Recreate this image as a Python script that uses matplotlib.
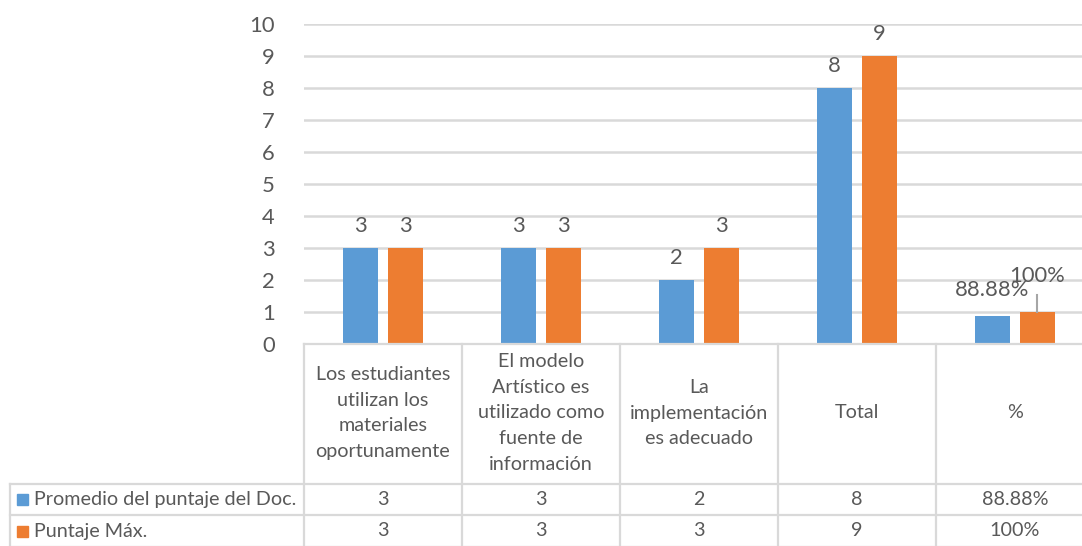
import matplotlib
matplotlib.use("Agg")
import matplotlib.pyplot as plt
from matplotlib.transforms import blended_transform_factory, offset_copy
from matplotlib.patches import Rectangle
from matplotlib.lines import Line2D

categories = ["Los estudiantes\nutilizan los\nmateriales\noportunamente",
              "El modelo\nArtístico es\nutilizado como\nfuente de\ninformación",
              "La\nimplementación\nes adecuado",
              "Total",
              "%"]
series_names = ["Promedio del puntaje del Doc.", "Puntaje Máx."]
promedio = [3, 3, 2, 8, 0.8888]
maximo = [3, 3, 3, 9, 1.0]
promedio_labels = ["3", "3", "2", "8", "88.88%"]
maximo_labels = ["3", "3", "3", "9", "100%"]
yticks = list(range(0, 11))

BLUE = "#5B9BD5"
ORANGE = "#ED7D31"
TXT = "#595959"
GRID = "#D9D9D9"

plt.rcParams['font.family'] = ['Lato', 'DejaVu Sans']

W, H = 1082, 546
fig = plt.figure(figsize=(W / 100, H / 100), dpi=100)

def fx(px):
    return px / W

def fy(py):
    return 1 - py / H

left_px, right_px, top_px, bot_px = 304, 1094, 24, 344
ax = fig.add_axes([fx(left_px), fy(bot_px), fx(right_px) - fx(left_px), fy(top_px) - fy(bot_px)])

n = len(categories)
xs = list(range(n))
bw = 0.222
off = 0.1424
ax.bar([x - off for x in xs], promedio, width=bw, color=BLUE, zorder=3)
ax.bar([x + off for x in xs], maximo, width=bw, color=ORANGE, zorder=3)

ax.set_xlim(-0.5, n - 0.5)
ax.set_ylim(0, 10)
ax.set_yticks(yticks)
ax.set_yticklabels([str(t) for t in yticks], fontsize=15.8, color=TXT)
ax.tick_params(axis='y', length=0, pad=21)
ax.set_xticks([])
for s in ax.spines.values():
    s.set_visible(False)
ax.grid(axis='y', color=GRID, linewidth=1.8, zorder=0)
ax.set_axisbelow(True)

# data labels
lab_tr = offset_copy(ax.transData, fig=fig, x=0, y=22, units='dots')
for i in range(n - 1):
    ax.text(xs[i] - off, promedio[i], promedio_labels[i], transform=lab_tr,
            ha='center', va='center', fontsize=15.8, color=TXT)
    ax.text(xs[i] + off, maximo[i], maximo_labels[i], transform=lab_tr,
            ha='center', va='center', fontsize=15.8, color=TXT)
# percent column labels
i = n - 1
tr25 = offset_copy(ax.transData, fig=fig, x=0, y=26, units='dots')
ax.text(xs[i] - off, promedio[i], promedio_labels[i], transform=tr25,
        ha='center', va='center', fontsize=15.8, color=TXT, zorder=5)
tr36 = offset_copy(ax.transData, fig=fig, x=0, y=36, units='dots')
ax.text(xs[i] + off, maximo[i], maximo_labels[i], transform=tr36,
        ha='center', va='center', fontsize=15.8, color=TXT, zorder=5)
# leader line from bar top up
p0 = ax.transData.transform((xs[i] + off, maximo[i]))
fig.add_artist(Line2D([fx(p0[0]), fx(p0[0])], [p0[1] / H, (p0[1] + 17) / H],
                      color="#A6A6A6", linewidth=1.5, transform=fig.transFigure))

# data table
bt = blended_transform_factory(ax.transData, fig.transFigure)
tbl_left = fx(10)
y_hdr_top = fy(344)
y_hdr_bot = fy(484)
y_r1_bot = fy(515)
y_r2_bot = fy(547)

lw = 1.6
fig.add_artist(Line2D([ax.transData.transform((-0.5, 0))[0] / W, 1.02], [y_hdr_top, y_hdr_top],
                      color=GRID, lw=lw, transform=fig.transFigure, zorder=4))
for yy in (y_hdr_bot, y_r1_bot, y_r2_bot):
    fig.add_artist(Line2D([tbl_left, 1.02], [yy, yy], color=GRID, lw=lw,
                          transform=fig.transFigure))
for b in range(n + 1):
    xb = b - 0.5
    ax.add_line(Line2D([xb, xb], [y_hdr_top, y_r2_bot], color=GRID, lw=lw,
                       transform=bt, clip_on=False))
fig.add_artist(Line2D([tbl_left, tbl_left], [y_hdr_bot, y_r2_bot], color=GRID, lw=lw,
                      transform=fig.transFigure))

FS = 14.2
for i, c in enumerate(categories):
    ax.text(xs[i], fy(413), c, transform=bt, ha='center', va='center',
            fontsize=FS, color=TXT, linespacing=1.62, clip_on=False)

row_y = [fy(499.5), fy(531)]
vals = [promedio_labels, maximo_labels]
cols = [BLUE, ORANGE]
for r in range(2):
    for i in range(n):
        ax.text(xs[i], row_y[r], vals[r][i], transform=bt, ha='center', va='center',
                fontsize=FS, color=TXT, clip_on=False)
    sq = 11
    fig.add_artist(Rectangle((fx(17), row_y[r] - (sq / 2) / H), sq / W, sq / H,
                             color=cols[r], transform=fig.transFigure))
    fig.text(fx(34), row_y[r], series_names[r], ha='left', va='center',
             fontsize=FS, color=TXT)

fig.savefig("out.png", dpi=100)
